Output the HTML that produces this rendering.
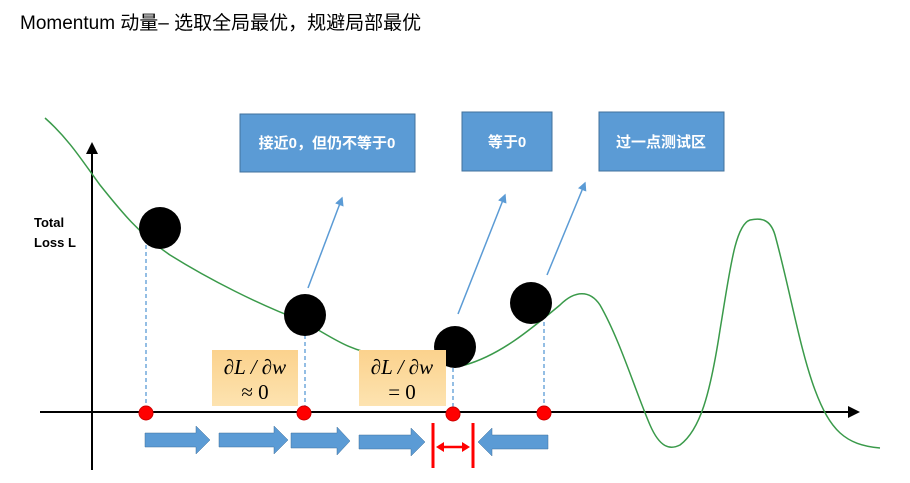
<!DOCTYPE html>
<html><head><meta charset="utf-8"><style>
body{margin:0;width:910px;height:483px;background:#fff;overflow:hidden;font-family:"Liberation Sans","Noto Sans CJK SC",sans-serif}
</style></head><body>
<svg width="910" height="483" xmlns="http://www.w3.org/2000/svg" style="position:absolute;left:0;top:0">
<defs>
<marker id="a" markerWidth="6" markerHeight="6" refX="5" refY="3" orient="auto"><path d="M0,0L6,3L0,6z" fill="#5b9bd5"/></marker>
<marker id="k" markerWidth="6" markerHeight="6" refX="5" refY="3" orient="auto"><path d="M0,0L6,3L0,6z" fill="#000"/></marker>
<linearGradient id="y" x1="0" y1="0" x2="0" y2="1"><stop offset="0" stop-color="#fbd28d"/><stop offset="1" stop-color="#fde3b0"/></linearGradient>
</defs>
<text x="20" y="29" font-size="19" fill="#000">Momentum 动量– 选取全局最优，规避局部最优</text>
<text x="34" y="227" font-size="13" font-weight="bold">Total</text>
<text x="34" y="247" font-size="13" font-weight="bold">Loss L</text>
<line x1="92" y1="470" x2="92" y2="144" stroke="#000" stroke-width="2" marker-end="url(#k)"/>
<line x1="40" y1="412" x2="858" y2="412" stroke="#000" stroke-width="2" marker-end="url(#k)"/>
<path d="M45,118 C70,140 85,165 100,185 C120,210 140,235 170,255 C210,280 260,305 300,320 C330,335 345,350 380,355 C420,362 445,368 465,365 C500,355 530,330 560,305 C575,290 590,290 600,305 C620,340 635,390 650,425 C660,448 670,450 680,445 C700,430 710,395 720,330 C730,270 735,225 750,220 C760,218 770,218 775,235 C790,290 800,350 815,390 C830,430 845,445 880,448" fill="none" stroke="#3a9a4a" stroke-width="1.5"/>
<g stroke="#5b9bd5" stroke-width="1.3" stroke-dasharray="4,3">
<line x1="146" y1="245" x2="146" y2="412"/><line x1="305" y1="335" x2="305" y2="412"/><line x1="453" y1="368" x2="453" y2="412"/><line x1="544" y1="322" x2="544" y2="412"/></g>
<g fill="#000"><circle cx="160" cy="228" r="21"/><circle cx="305" cy="315" r="21"/><circle cx="455" cy="347" r="21"/><circle cx="531" cy="303" r="21"/></g>
<g fill="#f00" stroke="#c00"><circle cx="146" cy="413" r="7"/><circle cx="304" cy="413" r="7"/><circle cx="453" cy="414" r="7"/><circle cx="544" cy="413" r="7"/></g>
<g stroke="#5b9bd5" stroke-width="1.5" marker-end="url(#a)"><line x1="308" y1="288" x2="342" y2="198"/><line x1="458" y1="314" x2="505" y2="195"/><line x1="547" y1="275" x2="585" y2="183"/></g>
<g fill="#5b9bd5" stroke="#41719c"><rect x="240" y="114" width="175" height="58"/><rect x="462" y="112" width="90" height="59"/><rect x="599" y="112" width="125" height="59"/></g>
<g fill="#fff" font-size="15" font-weight="bold" text-anchor="middle"><text x="327" y="148">接近0，但仍不等于0</text><text x="507" y="147">等于0</text><text x="661" y="147">过一点测试区</text></g>
<rect x="212" y="350" width="86" height="56" fill="url(#y)"/><rect x="359" y="350" width="87" height="56" fill="url(#y)"/>
<g font-family="Liberation Serif,serif" font-size="21" text-anchor="middle"><text x="255" y="374" font-style="italic">∂L / ∂w</text><text x="255" y="399">≈ 0</text><text x="402" y="374" font-style="italic">∂L / ∂w</text><text x="402" y="399">= 0</text></g>
<g fill="#5b9bd5" stroke="#41719c" stroke-width=".5">
<path d="M145,433H196V426L210,440L196,454V447H145z"/>
<path d="M219,433H274V426L288,440L274,454V447H219z"/>
<path d="M291,433H337V427L350,441L337,455V448H291z"/>
<path d="M359,435H411V428L425,442L411,456V449H359z"/>
<path d="M548,435H492V428L478,442L492,456V449H548z"/></g>
<g stroke="#f00" stroke-width="3"><line x1="433" y1="423" x2="433" y2="468"/><line x1="473" y1="423" x2="473" y2="468"/></g>
<line x1="441" y1="447" x2="465" y2="447" stroke="#f00" stroke-width="2.5"/>
<path d="M436,447L444,442V452z M470,447L462,442V452z" fill="#f00"/>
</svg>
</body></html>
